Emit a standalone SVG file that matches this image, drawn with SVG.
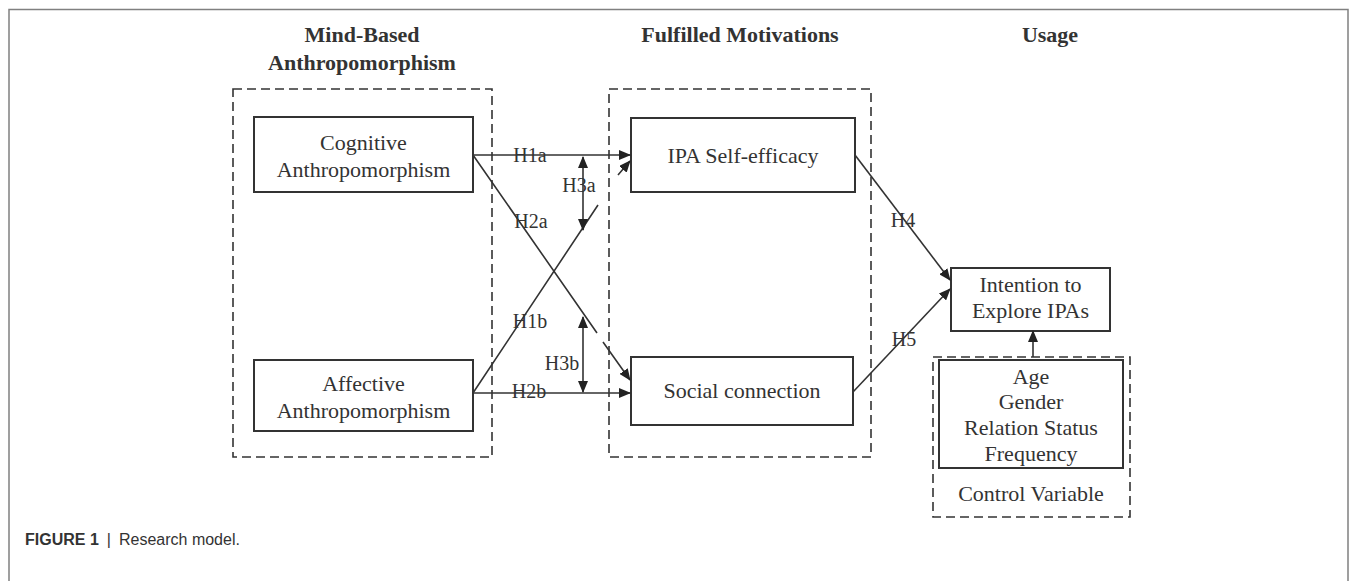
<svg xmlns="http://www.w3.org/2000/svg" width="1357" height="581" viewBox="0 0 1357 581">
<style>
.t{font-family:"Liberation Serif","Times New Roman",serif;font-size:22px;fill:#333;text-anchor:middle}
.h{font-family:"Liberation Serif","Times New Roman",serif;font-size:22px;font-weight:bold;fill:#333;text-anchor:middle}
.l{font-family:"Liberation Serif","Times New Roman",serif;font-size:20px;fill:#333;text-anchor:middle}
.box{fill:none;stroke:#333;stroke-width:2}
.dash{fill:none;stroke:#333;stroke-width:1.6;stroke-dasharray:9 5}
.ln{fill:none;stroke:#333;stroke-width:1.6}
.cap{font-family:"Liberation Sans",Arial,sans-serif;font-size:16px;fill:#333}
</style>
<defs>
<marker id="arr" viewBox="0 0 12 10" refX="11" refY="5" markerWidth="12" markerHeight="10" markerUnits="userSpaceOnUse" orient="auto-start-reverse">
<path d="M0,0 L12,5 L0,10 z" fill="#222"/>
</marker>
</defs>
<rect width="1357" height="581" fill="#fff"/>
<path d="M9,581 V9.5 H1348 V581" fill="none" stroke="#808080" stroke-width="1.5"/>

<g id="headings">
<text class="h" x="362" y="42">Mind-Based</text>
<text class="h" x="362" y="70">Anthropomorphism</text>
<text class="h" x="740" y="42">Fulfilled Motivations</text>
<text class="h" x="1050" y="42">Usage</text>
</g>

<g id="group-mind"><rect class="dash" x="233" y="89" width="259" height="368"/></g>
<g id="group-motivations"><rect class="dash" x="609" y="89" width="262" height="368"/></g>

<g id="cognitive">
<rect class="box" x="254" y="117" width="219" height="75"/>
<text class="t" x="363.5" y="150">Cognitive</text>
<text class="t" x="363.5" y="177">Anthropomorphism</text>
</g>
<g id="affective">
<rect class="box" x="254" y="360" width="219" height="71"/>
<text class="t" x="363.5" y="391">Affective</text>
<text class="t" x="363.5" y="418">Anthropomorphism</text>
</g>
<g id="self-efficacy">
<rect class="box" x="631" y="118" width="224" height="74"/>
<text class="t" x="743" y="163">IPA Self-efficacy</text>
</g>
<g id="social">
<rect class="box" x="631" y="357" width="222" height="68"/>
<text class="t" x="742" y="398">Social connection</text>
</g>
<g id="intention">
<rect class="box" x="951" y="268" width="159" height="63"/>
<text class="t" x="1030.5" y="292">Intention to</text>
<text class="t" x="1030.5" y="318">Explore IPAs</text>
</g>
<g id="control">
<rect class="dash" x="933" y="357" width="197" height="160"/>
<rect class="box" x="939" y="360" width="184" height="108"/>
<text class="t" x="1031" y="384">Age</text>
<text class="t" x="1031" y="409">Gender</text>
<text class="t" x="1031" y="435">Relation Status</text>
<text class="t" x="1031" y="461">Frequency</text>
<text class="t" x="1031" y="501">Control Variable</text>
</g>

<g id="connectors">
<line class="ln" x1="473" y1="155" x2="630" y2="155" marker-end="url(#arr)"/>
<path class="ln" d="M473,155 L597,333 M603,342 L630,380" marker-end="url(#arr)"/>
<path class="ln" d="M473,393 L598,205 M618,175 L630,161" marker-end="url(#arr)"/>
<line class="ln" x1="473" y1="393" x2="630" y2="393" marker-end="url(#arr)"/>
<line class="ln" x1="583" y1="157" x2="583" y2="230" marker-start="url(#arr)" marker-end="url(#arr)"/>
<line class="ln" x1="583" y1="317" x2="583" y2="392" marker-start="url(#arr)" marker-end="url(#arr)"/>
<line class="ln" x1="855" y1="155" x2="950" y2="280" marker-end="url(#arr)"/>
<line class="ln" x1="853" y1="392" x2="950" y2="289" marker-end="url(#arr)"/>
<line class="ln" x1="1033" y1="357" x2="1033" y2="331" marker-end="url(#arr)"/>
<text class="l" x="530" y="162">H1a</text>
<text class="l" x="579" y="192">H3a</text>
<text class="l" x="531" y="228">H2a</text>
<text class="l" x="530" y="328">H1b</text>
<text class="l" x="562" y="370">H3b</text>
<text class="l" x="529" y="398">H2b</text>
<text class="l" x="903" y="227">H4</text>
<text class="l" x="904" y="346">H5</text>
</g>

<g id="caption">
<text class="cap" x="25" y="545"><tspan font-weight="bold">FIGURE 1</tspan><tspan dx="8">|</tspan><tspan dx="8">Research model.</tspan></text>
</g>
</svg>
